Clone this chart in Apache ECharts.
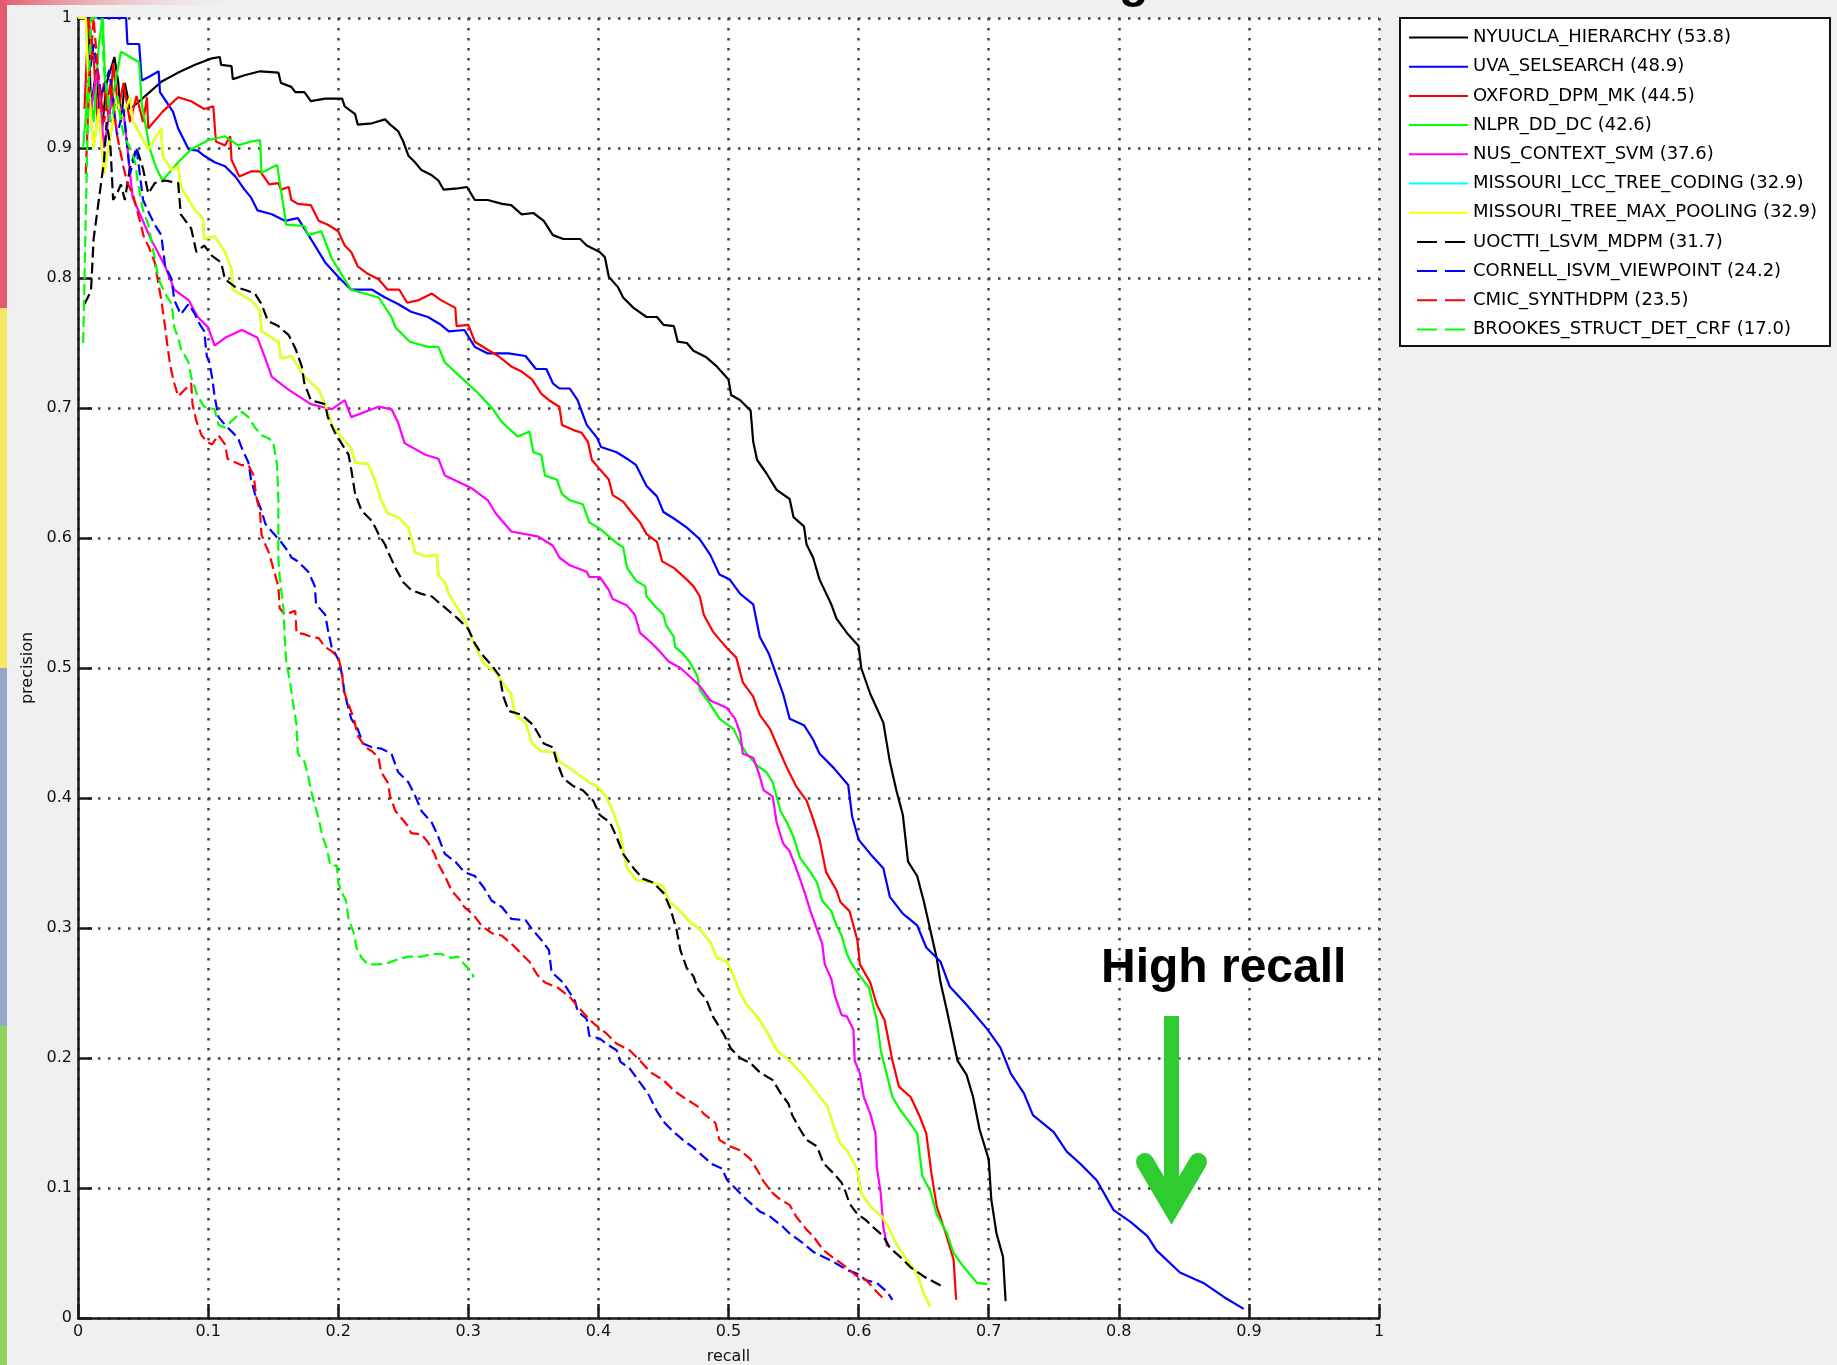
<!DOCTYPE html>
<html lang="en">
<head>
	<meta charset="utf-8"/>
	<title>precision / recall</title>
	<script type="text/javascript" src="https://cdn.jsdelivr.net/npm/echarts/dist/echarts.min.js"></script>
	<style>
		html, body { margin: 0; padding: 0; background: #f0f0f0; }
		#prChart { width: 1837px; height: 1365px; }
	</style>
</head>
<body>
<div id="prChart"></div>

<script type="text/javascript">
	// tick values on both axes
	var tickValues = [0, 0.1, 0.2, 0.3, 0.4, 0.5, 0.6, 0.7, 0.8, 0.9, 1];

	// legend labels, in drawing order
	var methodNames = [
		'NYUUCLA_HIERARCHY (53.8)',
		'UVA_SELSEARCH (48.9)',
		'OXFORD_DPM_MK (44.5)',
		'NLPR_DD_DC (42.6)',
		'NUS_CONTEXT_SVM (37.6)',
		'MISSOURI_LCC_TREE_CODING (32.9)',
		'MISSOURI_TREE_MAX_POOLING (32.9)',
		'UOCTTI_LSVM_MDPM (31.7)',
		'CORNELL_ISVM_VIEWPOINT (24.2)',
		'CMIC_SYNTHDPM (23.5)',
		'BROOKES_STRUCT_DET_CRF (17.0)'
	];

	// [recall, precision]
	var nyuucla = [[0.001,1.0],[0.008,1.0],[0.01,0.93],[0.014,0.96],[0.018,0.91],[0.022,0.95],[0.028,0.97],[0.031,0.95],[0.033,0.92],[0.036,0.95],[0.04,0.93],[0.046,0.935],[0.054,0.942],[0.064,0.951],[0.077,0.958],[0.09,0.964],[0.103,0.969],[0.109,0.97],[0.11,0.964],[0.118,0.963],[0.119,0.953],[0.128,0.956],[0.14,0.959],[0.154,0.958],[0.156,0.95],[0.164,0.947],[0.167,0.943],[0.174,0.943],[0.179,0.936],[0.19,0.938],[0.203,0.938],[0.205,0.932],[0.213,0.926],[0.215,0.918],[0.226,0.919],[0.236,0.922],[0.24,0.918],[0.246,0.913],[0.25,0.905],[0.254,0.894],[0.259,0.889],[0.264,0.883],[0.272,0.879],[0.277,0.875],[0.281,0.868],[0.292,0.869],[0.299,0.87],[0.305,0.86],[0.315,0.86],[0.326,0.857],[0.333,0.856],[0.341,0.849],[0.35,0.85],[0.358,0.844],[0.365,0.833],[0.373,0.83],[0.386,0.83],[0.391,0.825],[0.401,0.82],[0.405,0.816],[0.408,0.801],[0.415,0.793],[0.419,0.785],[0.427,0.777],[0.437,0.77],[0.445,0.77],[0.45,0.764],[0.458,0.763],[0.461,0.751],[0.468,0.75],[0.473,0.744],[0.483,0.739],[0.491,0.732],[0.5,0.722],[0.502,0.71],[0.509,0.706],[0.517,0.698],[0.519,0.674],[0.522,0.66],[0.529,0.65],[0.537,0.637],[0.547,0.63],[0.55,0.616],[0.558,0.609],[0.56,0.595],[0.565,0.585],[0.57,0.568],[0.579,0.549],[0.583,0.538],[0.591,0.527],[0.6,0.517],[0.602,0.5],[0.609,0.48],[0.619,0.458],[0.624,0.428],[0.629,0.406],[0.634,0.387],[0.638,0.351],[0.645,0.34],[0.65,0.321],[0.655,0.299],[0.66,0.277],[0.663,0.258],[0.668,0.236],[0.676,0.198],[0.683,0.187],[0.688,0.17],[0.693,0.145],[0.7,0.122],[0.702,0.091],[0.706,0.065],[0.711,0.047],[0.713,0.013]];

	var uvaSel = [[0,1.0],[0.037,1.0],[0.038,0.98],[0.047,0.98],[0.049,0.952],[0.055,0.955],[0.062,0.959],[0.063,0.943],[0.069,0.934],[0.073,0.928],[0.077,0.915],[0.085,0.899],[0.092,0.898],[0.097,0.894],[0.105,0.889],[0.113,0.886],[0.121,0.878],[0.128,0.868],[0.133,0.862],[0.138,0.852],[0.149,0.849],[0.159,0.844],[0.169,0.846],[0.179,0.83],[0.19,0.812],[0.2,0.801],[0.21,0.791],[0.226,0.791],[0.236,0.785],[0.246,0.78],[0.256,0.774],[0.269,0.77],[0.279,0.764],[0.285,0.759],[0.297,0.76],[0.305,0.747],[0.315,0.742],[0.331,0.742],[0.344,0.74],[0.352,0.73],[0.36,0.73],[0.365,0.719],[0.37,0.715],[0.378,0.715],[0.384,0.706],[0.391,0.687],[0.399,0.677],[0.402,0.67],[0.414,0.666],[0.422,0.661],[0.429,0.656],[0.437,0.64],[0.445,0.632],[0.45,0.62],[0.458,0.615],[0.468,0.608],[0.478,0.599],[0.486,0.587],[0.493,0.572],[0.501,0.568],[0.509,0.557],[0.519,0.549],[0.524,0.524],[0.531,0.511],[0.537,0.494],[0.542,0.48],[0.547,0.461],[0.558,0.456],[0.565,0.445],[0.57,0.434],[0.581,0.423],[0.592,0.41],[0.595,0.386],[0.6,0.368],[0.609,0.357],[0.619,0.346],[0.624,0.324],[0.634,0.311],[0.645,0.302],[0.652,0.285],[0.663,0.274],[0.67,0.255],[0.683,0.241],[0.699,0.222],[0.709,0.208],[0.717,0.188],[0.727,0.173],[0.734,0.156],[0.75,0.143],[0.76,0.128],[0.77,0.119],[0.783,0.106],[0.796,0.083],[0.809,0.074],[0.822,0.063],[0.829,0.052],[0.847,0.035],[0.865,0.027],[0.881,0.016],[0.896,0.007]];

	var oxfordDpm = [[0.005,0.93],[0.008,1.0],[0.012,0.97],[0.015,0.92],[0.02,0.95],[0.024,0.92],[0.027,0.965],[0.031,0.93],[0.035,0.95],[0.04,0.92],[0.045,0.94],[0.05,0.92],[0.053,0.939],[0.054,0.915],[0.065,0.928],[0.077,0.939],[0.087,0.936],[0.097,0.93],[0.104,0.932],[0.106,0.905],[0.113,0.902],[0.117,0.909],[0.118,0.891],[0.124,0.878],[0.133,0.882],[0.14,0.882],[0.147,0.872],[0.154,0.873],[0.156,0.868],[0.162,0.87],[0.164,0.86],[0.169,0.857],[0.179,0.856],[0.185,0.844],[0.192,0.841],[0.2,0.836],[0.205,0.825],[0.21,0.82],[0.215,0.809],[0.223,0.803],[0.231,0.799],[0.238,0.791],[0.247,0.791],[0.253,0.781],[0.262,0.783],[0.272,0.788],[0.279,0.783],[0.29,0.777],[0.291,0.763],[0.3,0.764],[0.305,0.751],[0.313,0.746],[0.323,0.74],[0.333,0.732],[0.341,0.728],[0.349,0.722],[0.356,0.711],[0.362,0.706],[0.37,0.701],[0.372,0.687],[0.381,0.683],[0.387,0.681],[0.392,0.674],[0.395,0.66],[0.401,0.653],[0.408,0.645],[0.411,0.633],[0.419,0.628],[0.426,0.619],[0.432,0.612],[0.437,0.603],[0.445,0.597],[0.449,0.582],[0.458,0.577],[0.468,0.568],[0.473,0.563],[0.478,0.555],[0.481,0.541],[0.488,0.528],[0.493,0.522],[0.499,0.515],[0.506,0.508],[0.511,0.489],[0.519,0.478],[0.524,0.464],[0.532,0.453],[0.538,0.439],[0.545,0.423],[0.552,0.409],[0.56,0.398],[0.565,0.384],[0.57,0.368],[0.575,0.343],[0.583,0.329],[0.586,0.32],[0.593,0.313],[0.599,0.291],[0.601,0.272],[0.609,0.258],[0.614,0.241],[0.62,0.229],[0.626,0.198],[0.631,0.178],[0.64,0.17],[0.647,0.155],[0.652,0.142],[0.656,0.111],[0.66,0.086],[0.667,0.065],[0.673,0.045],[0.675,0.014]];

	var nlprDd = [[0.004,0.9],[0.008,0.95],[0.012,0.92],[0.016,0.98],[0.019,1.0],[0.021,0.95],[0.025,0.93],[0.033,0.974],[0.047,0.966],[0.049,0.934],[0.055,0.9],[0.06,0.885],[0.065,0.875],[0.077,0.889],[0.087,0.899],[0.1,0.906],[0.113,0.909],[0.123,0.902],[0.133,0.905],[0.14,0.906],[0.141,0.881],[0.153,0.887],[0.156,0.868],[0.16,0.841],[0.174,0.84],[0.177,0.833],[0.187,0.836],[0.195,0.815],[0.205,0.799],[0.21,0.791],[0.231,0.785],[0.241,0.77],[0.244,0.762],[0.255,0.751],[0.269,0.747],[0.277,0.747],[0.282,0.735],[0.295,0.723],[0.308,0.711],[0.319,0.699],[0.326,0.689],[0.338,0.678],[0.347,0.682],[0.35,0.666],[0.356,0.664],[0.359,0.648],[0.368,0.645],[0.372,0.634],[0.378,0.629],[0.388,0.626],[0.393,0.612],[0.4,0.608],[0.406,0.603],[0.414,0.596],[0.419,0.593],[0.422,0.577],[0.429,0.567],[0.436,0.563],[0.437,0.555],[0.445,0.546],[0.45,0.541],[0.452,0.533],[0.458,0.524],[0.459,0.516],[0.465,0.511],[0.47,0.505],[0.476,0.494],[0.478,0.483],[0.486,0.472],[0.493,0.461],[0.504,0.453],[0.509,0.442],[0.514,0.434],[0.522,0.425],[0.529,0.42],[0.534,0.412],[0.537,0.401],[0.54,0.39],[0.545,0.381],[0.55,0.37],[0.555,0.354],[0.563,0.343],[0.568,0.335],[0.572,0.321],[0.579,0.313],[0.583,0.302],[0.587,0.294],[0.591,0.28],[0.595,0.272],[0.601,0.263],[0.608,0.254],[0.611,0.241],[0.614,0.229],[0.617,0.206],[0.622,0.186],[0.626,0.17],[0.632,0.16],[0.638,0.152],[0.645,0.142],[0.649,0.109],[0.655,0.098],[0.66,0.08],[0.668,0.065],[0.673,0.05],[0.681,0.039],[0.691,0.027],[0.699,0.026]];

	var nusContext = [[0.01,0.93],[0.015,0.96],[0.02,0.9],[0.026,0.939],[0.035,0.928],[0.042,0.862],[0.049,0.846],[0.056,0.83],[0.067,0.809],[0.074,0.791],[0.085,0.783],[0.092,0.77],[0.1,0.762],[0.105,0.748],[0.113,0.754],[0.126,0.76],[0.138,0.754],[0.144,0.738],[0.149,0.724],[0.162,0.714],[0.179,0.703],[0.195,0.699],[0.205,0.706],[0.21,0.693],[0.231,0.701],[0.241,0.699],[0.246,0.689],[0.251,0.673],[0.267,0.664],[0.277,0.661],[0.282,0.648],[0.303,0.638],[0.315,0.629],[0.321,0.619],[0.333,0.605],[0.354,0.601],[0.365,0.594],[0.37,0.585],[0.378,0.579],[0.391,0.574],[0.393,0.57],[0.401,0.57],[0.408,0.56],[0.411,0.553],[0.422,0.548],[0.428,0.541],[0.432,0.527],[0.44,0.52],[0.447,0.513],[0.454,0.505],[0.463,0.5],[0.473,0.491],[0.478,0.486],[0.486,0.475],[0.493,0.472],[0.499,0.469],[0.505,0.461],[0.509,0.45],[0.511,0.434],[0.519,0.431],[0.523,0.42],[0.527,0.406],[0.534,0.401],[0.537,0.381],[0.542,0.365],[0.547,0.359],[0.552,0.346],[0.558,0.329],[0.563,0.313],[0.568,0.299],[0.572,0.288],[0.574,0.272],[0.579,0.261],[0.582,0.247],[0.587,0.233],[0.591,0.232],[0.596,0.222],[0.597,0.198],[0.601,0.188],[0.604,0.17],[0.609,0.157],[0.613,0.142],[0.614,0.116],[0.617,0.096],[0.619,0.07],[0.622,0.055]];

	var missouriMax = [[0,1.0],[0.006,1.0],[0.008,0.95],[0.012,0.9],[0.016,0.93],[0.02,0.88],[0.025,0.91],[0.03,0.94],[0.033,0.921],[0.04,0.939],[0.042,0.921],[0.054,0.899],[0.064,0.915],[0.065,0.894],[0.072,0.883],[0.077,0.886],[0.079,0.87],[0.09,0.852],[0.096,0.846],[0.097,0.83],[0.105,0.832],[0.113,0.82],[0.118,0.807],[0.119,0.791],[0.133,0.783],[0.14,0.775],[0.141,0.759],[0.154,0.751],[0.156,0.738],[0.164,0.74],[0.174,0.724],[0.185,0.714],[0.19,0.703],[0.195,0.687],[0.203,0.677],[0.21,0.669],[0.213,0.658],[0.223,0.657],[0.228,0.645],[0.233,0.629],[0.238,0.619],[0.246,0.616],[0.254,0.608],[0.259,0.589],[0.267,0.586],[0.276,0.587],[0.277,0.571],[0.282,0.566],[0.285,0.557],[0.29,0.549],[0.295,0.541],[0.299,0.533],[0.303,0.522],[0.308,0.511],[0.313,0.502],[0.321,0.497],[0.326,0.489],[0.333,0.48],[0.336,0.464],[0.344,0.458],[0.349,0.442],[0.356,0.436],[0.367,0.435],[0.37,0.428],[0.378,0.423],[0.386,0.417],[0.393,0.412],[0.399,0.409],[0.406,0.401],[0.411,0.39],[0.417,0.373],[0.419,0.36],[0.422,0.346],[0.429,0.337],[0.442,0.335],[0.45,0.332],[0.454,0.321],[0.463,0.313],[0.47,0.305],[0.478,0.299],[0.486,0.289],[0.491,0.277],[0.499,0.274],[0.504,0.263],[0.509,0.25],[0.514,0.241],[0.522,0.232],[0.532,0.216],[0.537,0.206],[0.547,0.198],[0.558,0.186],[0.568,0.173],[0.576,0.163],[0.581,0.147],[0.586,0.134],[0.591,0.129],[0.599,0.114],[0.602,0.096],[0.609,0.086],[0.618,0.078],[0.624,0.068],[0.629,0.057],[0.637,0.045],[0.645,0.034],[0.65,0.019],[0.655,0.009]];

	// the cyan curve sits exactly under the yellow one (same AP)
	var missouriLcc = missouriMax;

	var uoctti = [[0.005,0.78],[0.01,0.79],[0.012,0.83],[0.016,0.86],[0.02,0.89],[0.022,0.92],[0.025,0.9],[0.027,0.86],[0.03,0.865],[0.033,0.872],[0.036,0.86],[0.04,0.885],[0.045,0.9],[0.05,0.884],[0.054,0.865],[0.059,0.873],[0.067,0.875],[0.077,0.873],[0.079,0.849],[0.087,0.838],[0.091,0.82],[0.097,0.825],[0.103,0.817],[0.11,0.812],[0.113,0.799],[0.121,0.793],[0.128,0.791],[0.136,0.788],[0.141,0.78],[0.146,0.767],[0.154,0.763],[0.162,0.756],[0.167,0.746],[0.172,0.732],[0.174,0.719],[0.179,0.706],[0.19,0.703],[0.192,0.693],[0.197,0.682],[0.203,0.672],[0.208,0.664],[0.21,0.653],[0.213,0.634],[0.218,0.621],[0.226,0.613],[0.231,0.603],[0.236,0.595],[0.238,0.59],[0.244,0.577],[0.25,0.566],[0.256,0.56],[0.264,0.557],[0.272,0.555],[0.279,0.549],[0.285,0.544],[0.292,0.538],[0.3,0.53],[0.305,0.519],[0.31,0.511],[0.318,0.502],[0.324,0.494],[0.327,0.478],[0.331,0.467],[0.341,0.464],[0.35,0.456],[0.358,0.442],[0.365,0.439],[0.368,0.428],[0.373,0.415],[0.381,0.409],[0.388,0.406],[0.396,0.398],[0.401,0.387],[0.409,0.381],[0.414,0.37],[0.419,0.357],[0.427,0.346],[0.434,0.338],[0.442,0.335],[0.45,0.327],[0.455,0.316],[0.46,0.299],[0.463,0.283],[0.468,0.269],[0.473,0.263],[0.477,0.252],[0.483,0.245],[0.488,0.232],[0.496,0.219],[0.502,0.207],[0.509,0.2],[0.517,0.196],[0.524,0.189],[0.534,0.183],[0.54,0.173],[0.546,0.165],[0.549,0.156],[0.555,0.145],[0.56,0.137],[0.568,0.132],[0.573,0.119],[0.581,0.111],[0.587,0.104],[0.59,0.097],[0.593,0.088],[0.599,0.08],[0.606,0.075],[0.611,0.07],[0.619,0.063],[0.624,0.054],[0.632,0.047],[0.64,0.039],[0.65,0.032],[0.663,0.025]];

	var cornell = [[0.008,0.95],[0.012,0.98],[0.018,0.94],[0.024,0.96],[0.03,0.91],[0.035,0.93],[0.04,0.88],[0.045,0.9],[0.05,0.86],[0.055,0.849],[0.059,0.841],[0.064,0.833],[0.067,0.809],[0.072,0.799],[0.074,0.783],[0.079,0.772],[0.085,0.78],[0.09,0.772],[0.092,0.767],[0.097,0.759],[0.099,0.74],[0.101,0.735],[0.103,0.724],[0.105,0.709],[0.108,0.693],[0.113,0.687],[0.118,0.682],[0.123,0.677],[0.126,0.669],[0.131,0.658],[0.133,0.645],[0.136,0.634],[0.141,0.621],[0.144,0.611],[0.149,0.605],[0.156,0.597],[0.162,0.589],[0.164,0.585],[0.169,0.582],[0.177,0.574],[0.182,0.563],[0.183,0.549],[0.19,0.541],[0.192,0.53],[0.195,0.516],[0.201,0.505],[0.203,0.494],[0.205,0.48],[0.21,0.461],[0.215,0.453],[0.219,0.442],[0.226,0.439],[0.233,0.438],[0.241,0.434],[0.246,0.42],[0.254,0.412],[0.259,0.402],[0.264,0.39],[0.272,0.381],[0.277,0.37],[0.282,0.357],[0.29,0.351],[0.297,0.343],[0.305,0.34],[0.312,0.331],[0.318,0.321],[0.326,0.316],[0.333,0.307],[0.344,0.306],[0.349,0.299],[0.356,0.291],[0.362,0.283],[0.364,0.266],[0.373,0.258],[0.382,0.244],[0.384,0.236],[0.391,0.23],[0.393,0.217],[0.401,0.215],[0.406,0.211],[0.414,0.206],[0.417,0.197],[0.424,0.192],[0.432,0.181],[0.438,0.173],[0.445,0.159],[0.451,0.15],[0.458,0.143],[0.465,0.137],[0.473,0.131],[0.481,0.124],[0.488,0.118],[0.495,0.115],[0.499,0.106],[0.506,0.099],[0.514,0.091],[0.524,0.082],[0.532,0.078],[0.542,0.07],[0.547,0.065],[0.558,0.057],[0.565,0.051],[0.573,0.047],[0.581,0.043],[0.591,0.037],[0.599,0.034],[0.606,0.029],[0.614,0.027],[0.622,0.02],[0.626,0.014]];

	var cmicSynth = [[0.006,0.88],[0.009,0.96],[0.012,1.0],[0.016,0.95],[0.02,0.92],[0.025,0.95],[0.03,0.91],[0.035,0.885],[0.038,0.873],[0.042,0.865],[0.047,0.846],[0.051,0.83],[0.054,0.825],[0.059,0.812],[0.064,0.783],[0.067,0.762],[0.069,0.746],[0.071,0.732],[0.074,0.719],[0.077,0.709],[0.082,0.714],[0.087,0.719],[0.088,0.703],[0.091,0.69],[0.095,0.679],[0.099,0.674],[0.103,0.672],[0.108,0.679],[0.113,0.672],[0.115,0.661],[0.121,0.658],[0.126,0.656],[0.131,0.656],[0.135,0.648],[0.137,0.632],[0.14,0.619],[0.141,0.603],[0.144,0.595],[0.147,0.588],[0.15,0.577],[0.154,0.563],[0.155,0.546],[0.159,0.541],[0.167,0.544],[0.168,0.527],[0.174,0.526],[0.179,0.524],[0.185,0.523],[0.19,0.516],[0.195,0.513],[0.2,0.508],[0.203,0.497],[0.204,0.483],[0.208,0.472],[0.212,0.461],[0.215,0.448],[0.221,0.439],[0.226,0.436],[0.231,0.431],[0.233,0.42],[0.238,0.412],[0.24,0.401],[0.244,0.39],[0.249,0.384],[0.253,0.379],[0.256,0.373],[0.264,0.372],[0.269,0.366],[0.274,0.357],[0.277,0.349],[0.282,0.34],[0.287,0.329],[0.294,0.321],[0.297,0.316],[0.304,0.31],[0.31,0.302],[0.318,0.296],[0.326,0.294],[0.333,0.288],[0.341,0.28],[0.347,0.274],[0.353,0.264],[0.359,0.258],[0.369,0.254],[0.378,0.247],[0.383,0.241],[0.39,0.233],[0.397,0.226],[0.406,0.219],[0.414,0.211],[0.424,0.206],[0.432,0.198],[0.44,0.189],[0.45,0.183],[0.458,0.175],[0.465,0.17],[0.476,0.163],[0.481,0.157],[0.49,0.15],[0.493,0.137],[0.501,0.132],[0.509,0.129],[0.517,0.122],[0.522,0.114],[0.527,0.105],[0.534,0.096],[0.54,0.091],[0.547,0.087],[0.552,0.078],[0.56,0.068],[0.565,0.063],[0.573,0.052],[0.581,0.046],[0.588,0.041],[0.599,0.032],[0.606,0.029],[0.614,0.02],[0.62,0.014]];

	var brookes = [[0.004,0.75],[0.006,0.85],[0.008,0.94],[0.01,1.0],[0.018,1.0],[0.02,0.96],[0.025,0.92],[0.03,0.94],[0.035,0.91],[0.04,0.9],[0.044,0.889],[0.046,0.873],[0.05,0.852],[0.054,0.841],[0.059,0.815],[0.062,0.799],[0.067,0.788],[0.072,0.78],[0.074,0.762],[0.077,0.754],[0.079,0.746],[0.085,0.735],[0.087,0.724],[0.092,0.709],[0.097,0.701],[0.105,0.699],[0.108,0.687],[0.113,0.685],[0.118,0.69],[0.126,0.697],[0.131,0.693],[0.136,0.685],[0.141,0.679],[0.146,0.677],[0.15,0.674],[0.153,0.656],[0.154,0.629],[0.154,0.585],[0.155,0.571],[0.158,0.544],[0.159,0.522],[0.16,0.505],[0.163,0.489],[0.165,0.475],[0.168,0.456],[0.169,0.434],[0.174,0.428],[0.177,0.417],[0.179,0.406],[0.182,0.395],[0.185,0.384],[0.188,0.37],[0.191,0.362],[0.194,0.348],[0.199,0.348],[0.2,0.335],[0.203,0.327],[0.206,0.321],[0.208,0.307],[0.212,0.296],[0.214,0.285],[0.218,0.277],[0.223,0.272],[0.231,0.272],[0.238,0.273],[0.246,0.276],[0.254,0.278],[0.264,0.278],[0.272,0.28],[0.279,0.28],[0.287,0.277],[0.292,0.278],[0.297,0.272],[0.303,0.266],[0.304,0.262]];

	var curveData = [nyuucla, uvaSel, oxfordDpm, nlprDd, nusContext, missouriLcc, missouriMax, uoctti, cornell, cmicSynth, brookes];
	var curveColors = ['#000000', '#0000ff', '#ff0000', '#00ff00', '#ff00ff', '#00ffff', '#ffff00', '#000000', '#0000ff', '#ff0000', '#00ff00'];
	var curveDashed = [false, false, false, false, false, false, false, true, true, true, true];

	// legend samples: the leading moves only stretch the box to 59x18
	var solidIcon = 'path://M0,0M59,18M0,8h59v2h-59z';
	var dashedIcon = 'path://M0,0M59,18M8,8h20v2h-20zM36,8h20v2h-20z';

	var axisFont = 'DejaVu Sans';

	function tickLabel(v) {
		return String(Math.round(v * 10) / 10);
	}

	var prChart = echarts.init(document.getElementById('prChart'));

	var seriesList = [];
	var legendData = [];
	for (var i = 0; i < methodNames.length; i++) {
		seriesList.push({
			name: methodNames[i],
			type: 'line',
			data: curveData[i],
			symbol: 'none',
			showSymbol: false,
			silent: true,
			color: curveColors[i],
			lineStyle: {
				color: curveColors[i],
				width: 2.2,
				type: curveDashed[i] ? [11, 5] : 'solid'
			}
		});
		legendData.push({
			name: methodNames[i],
			icon: curveDashed[i] ? dashedIcon : solidIcon
		});
	}

	var option = {
		animation: false,
		backgroundColor: '#f0f0f0',
		grid: {
			left: 78,
			top: 18,
			width: 1301,
			height: 1300,
			show: true,
			outerBoundsMode: 'none',
			backgroundColor: '#ffffff',
			borderWidth: 0
		},
		legend: {
			orient: 'vertical',
			left: 1409,
			top: 28.5,
			padding: 0,
			itemWidth: 59,
			itemHeight: 18,
			itemGap: 11.2,
			selectedMode: false,
			z: 5,
			itemStyle: { borderWidth: 0 },
			textStyle: {
				fontFamily: axisFont,
				fontSize: 18,
				lineHeight: 18,
				color: '#000'
			},
			data: legendData
		},
		xAxis: {
			type: 'value',
			min: 0,
			max: 1,
			interval: 0.1,
			name: 'recall',
			nameLocation: 'middle',
			nameGap: 31,
			nameTextStyle: { fontFamily: axisFont, fontSize: 16, color: '#111' },
			axisLine: { show: true, onZero: false, lineStyle: { color: '#1a1a1a', width: 2.5 } },
			axisTick: { show: true, inside: true, length: 14, lineStyle: { color: '#1a1a1a', width: 2.5 } },
			axisLabel: { fontFamily: axisFont, fontSize: 16, color: '#111', margin: 6, formatter: tickLabel },
			splitLine: { show: true, lineStyle: { color: '#444', width: 2.5, type: [2.5, 7.5] } }
		},
		yAxis: {
			type: 'value',
			min: 0,
			max: 1,
			interval: 0.1,
			name: 'precision',
			nameLocation: 'middle',
			nameGap: 35,
			nameTextStyle: { fontFamily: axisFont, fontSize: 16, color: '#111' },
			axisLine: { show: true, onZero: false, lineStyle: { color: '#1a1a1a', width: 2.5 } },
			axisTick: { show: true, inside: true, length: 14, lineStyle: { color: '#1a1a1a', width: 2.5 } },
			axisLabel: { fontFamily: axisFont, fontSize: 16, color: '#111', margin: 6, formatter: tickLabel },
			splitLine: { show: true, lineStyle: { color: '#444', width: 2.5, type: [2.5, 7.5] } }
		},
		graphic: [
			// slide decoration down the left edge
			{ type: 'rect', shape: { x: 0, y: 0, width: 7, height: 308 }, style: { fill: '#e35b6c' }, z: 1 },
			{ type: 'rect', shape: { x: 0, y: 308, width: 7, height: 360 }, style: { fill: '#f5e866' }, z: 1 },
			{ type: 'rect', shape: { x: 0, y: 668, width: 7, height: 358 }, style: { fill: '#96a5c8' }, z: 1 },
			{ type: 'rect', shape: { x: 0, y: 1026, width: 7, height: 339 }, style: { fill: '#8ed35c' }, z: 1 },
			{
				type: 'rect', shape: { x: 0, y: 0, width: 260, height: 5 }, z: 1,
				style: {
					fill: new echarts.graphic.LinearGradient(0, 0, 1, 0, [
						{ offset: 0, color: 'rgba(227,91,108,1)' },
						{ offset: 1, color: 'rgba(240,240,240,0)' }
					])
				}
			},
			// bottom of the cut-off slide title
			{ type: 'text', z: 1, style: { x: 1119, y: -40, text: 'g', font: 'bold 48px "Liberation Sans", Arial, sans-serif', fill: '#000', align: 'left', verticalAlign: 'top' } },
			// legend frame
			{ type: 'rect', z: 2, shape: { x: 1400, y: 18, width: 430, height: 328 }, style: { fill: '#ffffff', stroke: '#111', lineWidth: 2 } },
			// annotation
			{ type: 'text', z: 10, style: { x: 1101, y: 945, text: 'High recall', font: 'bold 48px "Liberation Sans", Arial, sans-serif', fill: '#000', align: 'left', verticalAlign: 'top' } },
			{ type: 'rect', z: 10, shape: { x: 1164, y: 1016, width: 15, height: 190 }, style: { fill: '#2ecc2e' } },
			{ type: 'polyline', z: 10, shape: { points: [[1145, 1162], [1171.5, 1207], [1198, 1162]] }, style: { stroke: '#2ecc2e', lineWidth: 18, lineCap: 'round', lineJoin: 'miter', fill: null } }
		],
		series: seriesList
	};

	prChart.setOption(option);
</script>
</body>
</html>
